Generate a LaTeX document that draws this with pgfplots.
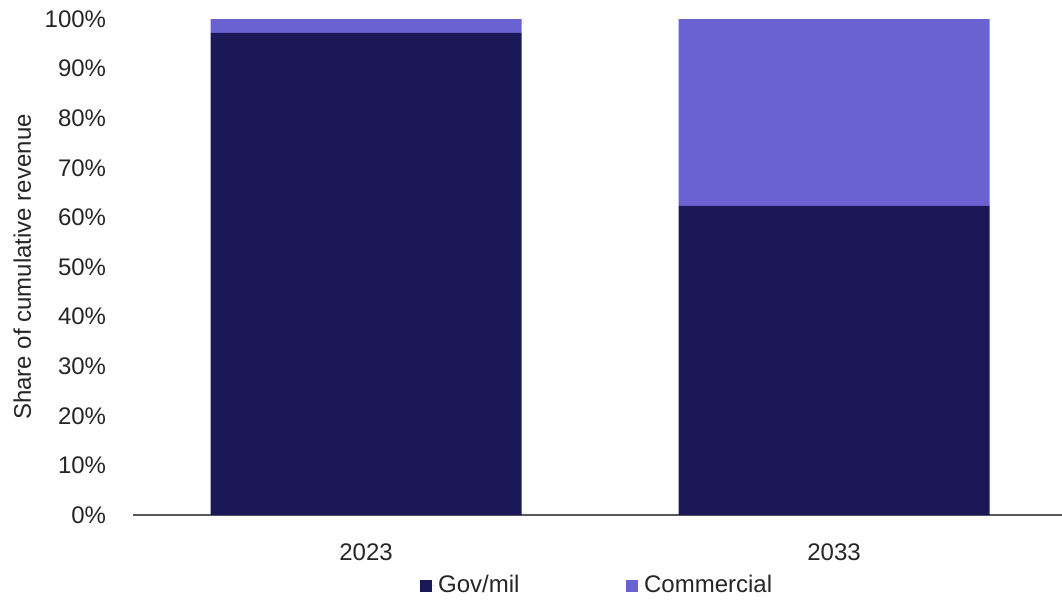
\documentclass[border=0pt]{standalone}
\usepackage{fontspec}
\setmainfont{Liberation Sans}
\usepackage{pgfplots}
\pgfplotsset{compat=1.18}
\definecolor{govmil}{HTML}{1B1858}
\definecolor{comm}{HTML}{6A62D3}
\definecolor{axisgray}{HTML}{595959}
\begin{document}
\fontsize{18pt}{21pt}\selectfont
\begin{tikzpicture}
\useasboundingbox (0,0) rectangle (796.5pt,450.75pt);
\begin{axis}[
  at={(99.75pt,64.5pt)}, anchor=south west,
  scale only axis, width=696.75pt, height=372pt,
  ybar stacked, bar width=233.25pt,
  xmin=-0.498, xmax=1.487, ymin=0, ymax=100,
  xtick={0,1}, xticklabels={2023,2033},
  ytick={0,10,...,100},
  yticklabel={\pgfmathprintnumber{\tick}\%},
  /pgf/number format/assume math mode=true,
  axis x line*=bottom, axis y line*=left,
  y axis line style={draw=none},
  x axis line style={draw=axisgray, line width=1pt, -},
  major tick length=0pt, tick style={draw=none},
  ticklabel style={font=\fontsize{18pt}{21pt}\selectfont, text=black!85},
  yticklabel style={xshift=-14pt},
  xticklabel style={yshift=-15pt},
  ylabel={Share of cumulative revenue},
  every axis y label/.style={at={([xshift=-83pt]axis description cs:0,0.5)}, rotate=90, anchor=center, font=\fontsize{18pt}{21pt}\selectfont, text=black!85},
  legend style={at={(axis description cs:0.5,0)}, anchor=north, yshift=-41pt, draw=none, fill=none,
    legend columns=2, font=\fontsize{18pt}{21pt}\selectfont, text=black!85,
    /tikz/every even column/.append style={column sep=78pt}},
  legend image code/.code={\fill[#1,draw=none] (0pt,-4.5pt) rectangle (9pt,4.5pt); \path (0pt,0pt) -- (11.5pt,0pt);},
]
\addplot[fill=govmil, draw=none] coordinates {(0,97.2) (1,62.3)};
\addplot[fill=comm, draw=none] coordinates {(0,2.8) (1,37.7)};
\legend{Gov/mil, Commercial}
\end{axis}
\end{tikzpicture}
\end{document}
